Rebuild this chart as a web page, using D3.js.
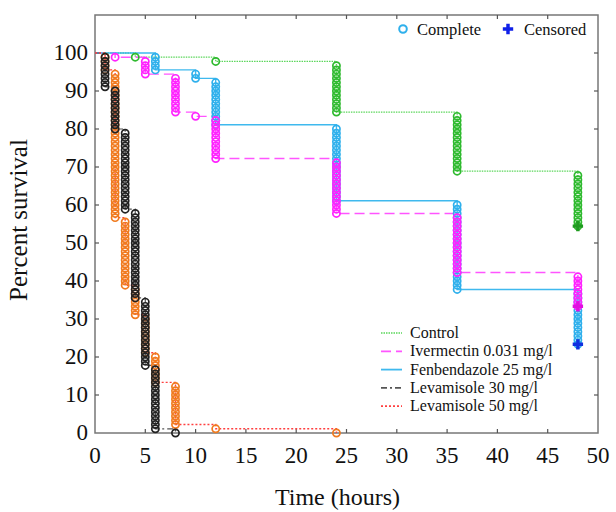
<!DOCTYPE html>
<html lang="en">
<head>
<meta charset="UTF-8">
<script src="https://d3js.org/d3.v7.min.js"></script>
<title>Survival</title>
<style>
    body { margin: 0; background: #fff; }
    text { font-family: "Liberation Serif", serif; fill: #111; }
</style>
</head>
<body>
<script>
    // data: animals per group, hours of observation, deaths at each hour
    const groupSize = 90;
    const hours = [1, 2, 3, 4, 5, 6, 8, 10, 12, 24, 36, 48];
    const groupNames = ["Control", "Ivermectin 0.031 mg/l", "Fenbendazole 25 mg/l", "Levamisole 30 mg/l", "Levamisole 50 mg/l"];
    const deathsControl      = [0, 0, 0, 1, 0, 0, 0, 0, 1, 12, 14, 13];
    const deathsIvermectin   = [0, 1, 0, 0, 4, 0, 9, 1, 10, 13, 14, 8];
    const deathsFenbendazole = [0, 0, 0, 0, 0, 4, 0, 2, 11, 18, 21, 13];
    const deathsLev30        = [8, 10, 19, 21, 16, 15, 1, 0, 0, 0, 0, 0];
    const deathsLev50        = [4, 35, 16, 7, 9, 7, 10, 0, 1, 1, 0, 0];
    const xTicks = [0, 5, 10, 15, 20, 25, 30, 35, 40, 45, 50];
    const yTicks = [0, 10, 20, 30, 40, 50, 60, 70, 80, 90, 100];

    const w = 616, h = 512;
    const margin = {top: 15, right: 18, bottom: 79, left: 95};

    const svg = d3.select("body").append("svg")
        .attr("width", w)
        .attr("height", h);

    const x = d3.scaleLinear().domain([0, 50]).range([margin.left, w - margin.right]);
    const y = d3.scaleLinear().domain([0, 110]).range([h - margin.bottom, margin.top]);

    const groups = [
        {name: groupNames[0], deaths: deathsControl, line: "#5ad65a", mark: "#2fba2f", plus: "#1f9a1f", dash: "1.5,1", width: 1.3},
        {name: groupNames[1], deaths: deathsIvermectin, line: "#ff55ff", mark: "#ff22ff", plus: "#e010e0", dash: "10,5", width: 1.4},
        {name: groupNames[2], deaths: deathsFenbendazole, line: "#3fb9ee", mark: "#2fb0ec", plus: "#1030e0", dash: null, width: 1.4},
        {name: groupNames[3], deaths: deathsLev30, line: "#555", mark: "#222", plus: "#222", dash: "6,3,2,3", width: 1.2},
        {name: groupNames[4], deaths: deathsLev50, line: "#ff4040", mark: "#f07a1e", plus: "#f07a1e", dash: "2,2", width: 1.4}
    ];

    // Kaplan-Meier: no censoring before the end, so S = at risk / N
    groups.forEach(g => {
        let n = groupSize;
        g.steps = [[0, 100]];
        g.events = [];
        g.deaths.forEach((d, i) => {
            if (d === 0) return;
            for (let k = 1; k <= d; k++) g.events.push([hours[i], (n - k) / groupSize * 100]);
            n -= d;
            g.steps.push([hours[i], n / groupSize * 100]);
        });
        g.left = n;
    });

    // frame
    svg.append("rect")
        .attr("x", x(0)).attr("y", y(110))
        .attr("width", x(50) - x(0)).attr("height", y(0) - y(110))
        .attr("fill", "none").attr("stroke", "#777").attr("stroke-width", 1.5);

    // inside ticks on all sides
    const tick = svg.append("g").attr("stroke", "#555").attr("stroke-width", 1.2);
    xTicks.slice(1, -1).forEach(t => {
        tick.append("line").attr("x1", x(t)).attr("x2", x(t)).attr("y1", y(0)).attr("y2", y(0) - 4);
        tick.append("line").attr("x1", x(t)).attr("x2", x(t)).attr("y1", y(110)).attr("y2", y(110) + 4);
    });
    yTicks.slice(1).forEach(t => {
        tick.append("line").attr("x1", x(0)).attr("x2", x(0) + 4).attr("y1", y(t)).attr("y2", y(t));
        tick.append("line").attr("x1", x(50)).attr("x2", x(50) - 4).attr("y1", y(t)).attr("y2", y(t));
    });

    svg.selectAll(".xlab").data(xTicks).join("text")
        .attr("class", "xlab")
        .attr("x", d => x(d)).attr("y", y(0) + 30)
        .attr("text-anchor", "middle").attr("font-size", 23)
        .text(d => d);

    svg.selectAll(".ylab").data(yTicks).join("text")
        .attr("class", "ylab")
        .attr("x", x(0) - 7).attr("y", d => y(d) + 7)
        .attr("text-anchor", "end").attr("font-size", 23)
        .text(d => d);

    svg.append("text")
        .attr("x", (x(0) + x(50)) / 2 - 9).attr("y", 505)
        .attr("text-anchor", "middle").attr("font-size", 24)
        .text("Time (hours)");

    svg.append("text")
        .attr("transform", `translate(27,${(y(0) + y(110)) / 2 - 4}) rotate(-90)`)
        .attr("text-anchor", "middle").attr("font-size", 25)
        .text("Percent survival");

    // step lines
    const step = d3.line().x(d => x(d[0])).y(d => y(d[1])).curve(d3.curveStepAfter);
    groups.forEach(g => {
        svg.append("path")
            .attr("d", step(g.steps))
            .attr("fill", "none")
            .attr("stroke", g.line)
            .attr("stroke-width", g.width)
            .attr("stroke-dasharray", g.dash);
    });

    // event circles, one per death
    [0, 2, 1, 4, 3].forEach(i => {
        const g = groups[i];
        svg.append("g").selectAll("circle").data(g.events).join("circle")
            .attr("cx", d => x(d[0])).attr("cy", d => y(d[1]))
            .attr("r", 3.6)
            .attr("fill", "none")
            .attr("stroke", g.mark)
            .attr("stroke-width", 1.7);
    });

    // censored at end of study
    const plus = d3.symbol().type(d3.symbolCross).size(60);
    groups.filter(g => g.left > 0).forEach(g => {
        svg.append("path")
            .attr("d", plus())
            .attr("transform", `translate(${x(48)},${y(g.left / groupSize * 100)})`)
            .attr("fill", g.plus);
    });

    // top legend
    svg.append("circle").attr("cx", 403).attr("cy", 29).attr("r", 3.8)
        .attr("fill", "none").attr("stroke", "#2fb0ec").attr("stroke-width", 2);
    svg.append("text").attr("x", 417).attr("y", 34.5).attr("font-size", 16.5).text("Complete");
    svg.append("path").attr("d", plus()).attr("transform", "translate(508,29)").attr("fill", "#1020e8");
    svg.append("text").attr("x", 524).attr("y", 34.5).attr("font-size", 16.5).text("Censored");

    // line legend
    const legend = svg.append("g").attr("transform", "translate(381,333)");
    groups.forEach((g, i) => {
        legend.append("line")
            .attr("x1", 0).attr("x2", 21).attr("y1", i * 18.3).attr("y2", i * 18.3)
            .attr("stroke", g.line).attr("stroke-width", g.width + 0.4)
            .attr("stroke-dasharray", g.dash);
        legend.append("text")
            .attr("x", 29).attr("y", i * 18.3 + 5)
            .attr("font-size", 16)
            .text(g.name);
    });
</script>
</body>
</html>
